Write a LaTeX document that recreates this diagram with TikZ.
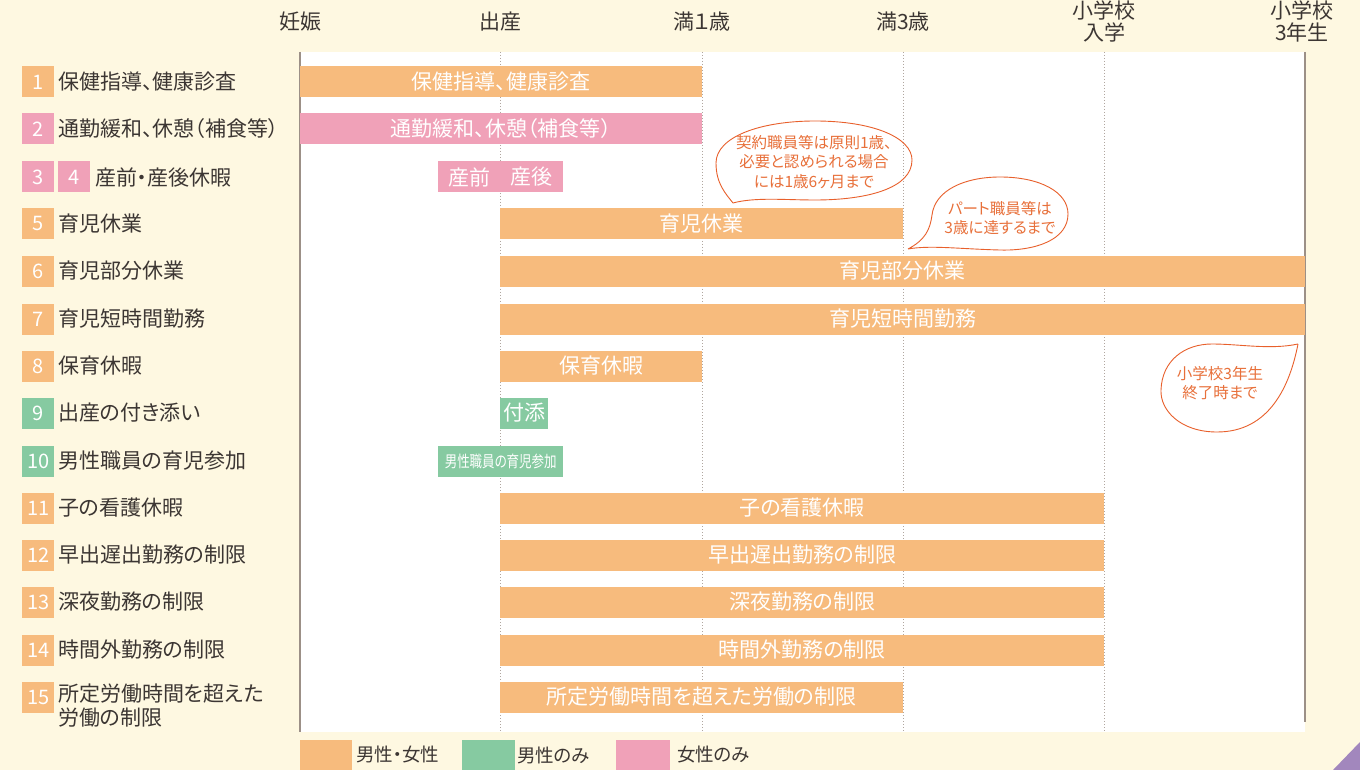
\documentclass[tikz,border=0pt]{standalone}
\usepackage{fontspec}
\setmainfont{Noto Sans CJK JP}[RawFeature=+palt]
\definecolor{bgc}{HTML}{FEF8E1}
\definecolor{orO}{HTML}{F7BB7D}
\definecolor{piP}{HTML}{F0A1B8}
\definecolor{grG}{HTML}{86CAA1}
\definecolor{axc}{HTML}{9C9087}
\definecolor{txc}{HTML}{3C3633}
\definecolor{coc}{HTML}{E8602C}
\definecolor{cot}{HTML}{E8703A}
\definecolor{purp}{HTML}{A287BD}
\tikzset{
  bar/.style={rectangle, inner sep=0pt, minimum height=31pt, anchor=west, text=white, font=\fontsize{21}{24}\selectfont},
  numbox/.style={rectangle, inner sep=0pt, minimum height=31pt, minimum width=32pt, anchor=west, text=white, font=\fontsize{20}{22}\selectfont},
  lbl/.style={anchor=west, inner sep=0pt, text=txc, font=\fontsize{21}{24}\selectfont, align=left},
  hdr/.style={inner sep=0pt, text=txc, font=\fontsize{21}{22}\selectfont, align=center},
  grid/.style={axc!80, line width=1pt, dash pattern=on 1.2pt off 1.8pt},
  axis/.style={axc, line width=1.5pt},
  callout/.style={draw=coc, line width=0.9pt},
  cotext/.style={text=cot, inner sep=0pt, align=center, font=\fontsize{15.5}{19.5}\selectfont},
  legtext/.style={anchor=west, inner sep=0pt, text=txc, font=\fontsize{18.5}{22}\selectfont},
}
\begin{document}
\begin{tikzpicture}[x=1pt,y=-1pt]
\fill[bgc] (0,0) rectangle (1360,770);
\useasboundingbox (0,0) rectangle (1360,770);
\fill[white] (300,52) rectangle (1305,732);
% grid lines
\draw[grid] (500,52) -- (500,732);
\draw[grid] (702,52) -- (702,732);
\draw[grid] (903,52) -- (903,732);
\draw[grid] (1104,52) -- (1104,732);
\draw[axis] (300,52) -- (300,732);
\draw[axis] (1305,52) -- (1305,722);
% headers
\node[hdr] (h0) at (300,22) {妊娠};
\node[hdr] (h1) at (500,22) {出産};
\node[hdr] (h2) at (702,22) {満１歳};
\node[hdr] (h3) at (903,22) {満3歳};
\node[hdr] (h4) at (1104,21) {小学校\\入学};
\node[hdr] (h5) at (1302,21) {小学校\\3年生};
% left labels
\node[numbox, fill=orO] (n1) at (22,82) {1};
\node[lbl] (l1) at (58,82) {保健指導、健康診査};
\node[numbox, fill=piP] (n2) at (22,129) {2};
\node[lbl] (l2) at (58,129) {通勤緩和、休憩（補食等）};
\node[numbox, fill=piP] (n3) at (22,177) {3};
\node[numbox, fill=piP] (n4) at (58,177) {4};
\node[lbl] (l3) at (95,177) {産前・産後休暇};
\node[numbox, fill=orO] (n5) at (22,224) {5};
\node[lbl] (l5) at (58,224) {育児休業};
\node[numbox, fill=orO] (n6) at (22,271) {6};
\node[lbl] (l6) at (58,271) {育児部分休業};
\node[numbox, fill=orO] (n7) at (22,319) {7};
\node[lbl] (l7) at (58,319) {育児短時間勤務};
\node[numbox, fill=orO] (n8) at (22,366) {8};
\node[lbl] (l8) at (58,366) {保育休暇};
\node[numbox, fill=grG] (n9) at (22,413) {9};
\node[lbl] (l9) at (58,413) {出産の付き添い};
\node[numbox, fill=grG] (n10) at (22,461) {10};
\node[lbl] (l10) at (58,461) {男性職員の育児参加};
\node[numbox, fill=orO] (n11) at (22,508) {11};
\node[lbl] (l11) at (58,508) {子の看護休暇};
\node[numbox, fill=orO] (n12) at (22,555) {12};
\node[lbl] (l12) at (58,555) {早出遅出勤務の制限};
\node[numbox, fill=orO] (n13) at (22,602) {13};
\node[lbl] (l13) at (58,602) {深夜勤務の制限};
\node[numbox, fill=orO] (n14) at (22,650) {14};
\node[lbl] (l14) at (58,650) {時間外勤務の制限};
\node[numbox, fill=orO] (n15) at (22,697) {15};
\node[lbl, anchor=north west] (l15) at (58,684) {所定労働時間を超えた\\労働の制限};
% bars
\node[bar, fill=orO, minimum width=402pt] (b1) at (300,82) {保健指導、健康診査};
\node[bar, fill=piP, minimum width=402pt] (b2) at (300,129) {通勤緩和、休憩（補食等）};
\node[bar, fill=piP, minimum width=62pt] (b3) at (438,177) {産前};
\node[bar, fill=piP, minimum width=63pt] (b4) at (500,177) {産後};
\node[bar, fill=orO, minimum width=403pt] (b5) at (500,224) {育児休業};
\node[bar, fill=orO, minimum width=805pt] (b6) at (500,271) {育児部分休業};
\node[bar, fill=orO, minimum width=805pt] (b7) at (500,319) {育児短時間勤務};
\node[bar, fill=orO, minimum width=202pt] (b8) at (500,366) {保育休暇};
\node[bar, fill=grG, minimum width=48pt] (b9) at (500,413) {付添};
\node[bar, fill=grG, minimum width=125pt] (b10) at (438,461) {\scalebox{0.78}[1]{\fontsize{16}{18}\selectfont 男性職員の育児参加}};
\node[bar, fill=orO, minimum width=604pt] (b11) at (500,508) {子の看護休暇};
\node[bar, fill=orO, minimum width=604pt] (b12) at (500,555) {早出遅出勤務の制限};
\node[bar, fill=orO, minimum width=604pt] (b13) at (500,602) {深夜勤務の制限};
\node[bar, fill=orO, minimum width=604pt] (b14) at (500,650) {時間外勤務の制限};
\node[bar, fill=orO, minimum width=403pt] (b15) at (500,697) {所定労働時間を超えた労働の制限};
% callouts
\draw[callout] (733,203) .. controls (726,194) and (716,184) .. (716,163)
  .. controls (716,137) and (760,121) .. (815,121)
  .. controls (874,121) and (912,138) .. (912,160)
  .. controls (912,188) and (868,200) .. (815,200)
  .. controls (785,200) and (755,197) .. (733,203);
\node[cotext] (c1) at (814,162) {契約職員等は原則1歳、\\必要と認められる場合\\には1歳6ヶ月まで};
\draw[callout] (908,249) .. controls (925,240) and (930,230) .. (932,215)
  .. controls (935,190) and (965,177) .. (1000,177)
  .. controls (1040,177) and (1068,192) .. (1068,214)
  .. controls (1068,240) and (1035,251) .. (1000,250)
  .. controls (960,249) and (930,245) .. (908,249);
\node[cotext] (c2) at (1000,218) {パート職員等は\\3歳に達するまで};
\draw[callout] (1298,344) .. controls (1290,385) and (1270,432) .. (1217,432)
  .. controls (1180,432) and (1160,410) .. (1161,390)
  .. controls (1162,360) and (1185,344) .. (1212,344)
  .. controls (1240,344) and (1270,350) .. (1298,344);
\node[cotext] (c3) at (1220,383) {小学校3年生\\終了時まで};
% legend
\fill[orO] (300,740) rectangle (352,770);
\node[legtext] (g1) at (356,755) {男性・女性};
\fill[grG] (462,740) rectangle (515,770);
\node[legtext] (g2) at (517,755) {男性のみ};
\fill[piP] (616,740) rectangle (670,770);
\node[legtext] (g3) at (677,755) {女性のみ};
% corner
\fill[purp] (1333,770) -- (1360,742) -- (1360,770) -- cycle;
\end{tikzpicture}
\end{document}
